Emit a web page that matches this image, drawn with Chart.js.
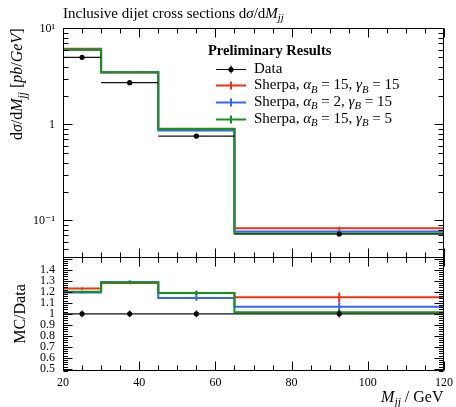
<!DOCTYPE html>
<html>
<head>
<meta charset="utf-8">
<script src="https://cdn.jsdelivr.net/npm/chart.js@4.4.1/dist/chart.umd.min.js"></script>
<style>
  html, body { margin: 0; padding: 0; background: #fff; }
  #wrap { width: 456px; height: 407px; }
</style>
</head>
<body>
<div id="wrap"><canvas id="dijetChart" width="456" height="407"></canvas></div>
<script>
// bins in M_jj (GeV)
const binEdges = [20, 30, 45, 65, 120];
const binCenters = [25, 37.5, 55, 92.5];

// measured cross section (pb/GeV)
const dataXsec = [5.0, 2.72, 0.757, 0.0723];
const dataXsecErr = [0.15, 0.08, 0.023, 0.0025];

// Sherpa predictions (pb/GeV)
const sherpaA15G15 = [6.15, 3.48, 0.9, 0.083];
const sherpaA2G15 = [5.98, 3.5, 0.865, 0.0768];
const sherpaA15G5 = [6.0, 3.5, 0.895, 0.0732];
const sherpaA15G15Err = [0.05, 0.03, 0.015, 0.0033];
const sherpaA2G15Err = [0.05, 0.04, 0.02, 0.003];
const sherpaA15G5Err = [0.05, 0.03, 0.015, 0.0015];

// MC / Data
const ratioData = [1, 1, 1, 1];
const ratioDataErr = [0.03, 0.03, 0.03, 0.035];
const ratioA15G15 = [1.23, 1.28, 1.19, 1.15];
const ratioA2G15 = [1.195, 1.29, 1.145, 1.065];
const ratioA15G5 = [1.2, 1.285, 1.19, 1.015];
const ratioA15G15Err = [0.01, 0.01, 0.02, 0.045];
const ratioA2G15Err = [0.01, 0.015, 0.025, 0.04];
const ratioA15G5Err = [0.01, 0.01, 0.02, 0.02];

// generator settings for the legend
const alphaB = [15, 2, 15];
const gammaB = [15, 15, 5];

// ticks
const xTicks = [20, 40, 60, 80, 100, 120];
const mainTicks = [0.1, 1, 10];
const mainTickLabels = ["10⁻¹", "1", "10¹"];
const ratioTicks = [0.5, 0.6, 0.7, 0.8, 0.9, 1, 1.1, 1.2, 1.3, 1.4];
const ratioTickLabels = ["0.5", "0.6", "0.7", "0.8", "0.9", "1", "1.1", "1.2", "1.3", "1.4"];

const RED = "#EE3311";
const BLUE = "#3366FF";
const GREEN = "#109618";
const FONT = '"Liberation Serif", "DejaVu Serif", serif';

function stepPoints(vals) {
  const pts = vals.map((v, i) => ({ x: binEdges[i], y: v }));
  pts.push({ x: binEdges[binEdges.length - 1], y: vals[vals.length - 1] });
  return pts;
}

function binSegments(vals) {
  const pts = [];
  vals.forEach((v, i) => {
    pts.push({ x: binEdges[i], y: v }, { x: binEdges[i + 1], y: v }, { x: binEdges[i + 1], y: null });
  });
  return pts;
}

function errorSegments(vals, errs) {
  const pts = [];
  vals.forEach((v, i) => {
    pts.push({ x: binCenters[i], y: v - errs[i] }, { x: binCenters[i], y: v + errs[i] }, { x: binCenters[i], y: null });
  });
  return pts;
}

function histo(vals, color, axis, order) {
  return { data: stepPoints(vals), yAxisID: axis, stepped: "before", borderColor: color,
    borderWidth: 2, pointRadius: 0, order: order };
}

function bars(vals, errs, color, axis, order, width) {
  return { data: errorSegments(vals, errs), yAxisID: axis, borderColor: color,
    borderWidth: width, pointRadius: 0, spanGaps: false, order: order };
}

function dataSets(vals, errs, axis) {
  return [
    { data: binSegments(vals), yAxisID: axis, borderColor: "#111", borderWidth: 1.2,
      pointRadius: 0, spanGaps: false, order: 0 },
    bars(vals, errs, "#111", axis, 0, 1.2),
    { data: vals.map((v, i) => ({ x: binCenters[i], y: v })), yAxisID: axis, showLine: false,
      pointRadius: 2.6, pointBackgroundColor: "#000", pointBorderWidth: 0, order: 0 },
  ];
}

// rich text: parts are [text, style], style letters: i italic, b bold, s subscript
function drawRich(ctx, parts, x, y, size, measureOnly) {
  let cx = x;
  parts.forEach(([t, s]) => {
    const fs = s.includes("s") ? size * 0.72 : size;
    ctx.font = (s.includes("i") ? "italic " : "") + (s.includes("b") ? "bold " : "") + fs + "px " + FONT;
    if (!measureOnly) ctx.fillText(t, cx, s.includes("s") ? y + size * 0.22 : y);
    cx += ctx.measureText(t).width;
  });
  return cx - x;
}

const titleParts = [["Inclusive dijet cross sections d", ""], ["σ", "i"], ["/d", ""], ["M", "i"], ["jj", "is"]];
const yTitleParts = [["d", ""], ["σ", "i"], ["/d", ""], ["M", "i"], ["jj", "is"], [" [", ""], ["pb", "i"], ["/", ""], ["GeV", "i"], ["]", ""]];
const xTitleParts = [["M", "i"], ["jj", "is"], [" / GeV", ""]];

function sherpaParts(k) {
  return [["Sherpa, ", ""], ["α", "i"], ["B", "is"], [" = " + alphaB[k] + ", ", ""], ["γ", "i"], ["B", "is"], [" = " + gammaB[k], ""]];
}

const panelDecor = {
  id: "panelDecor",
  afterDraw(chart) {
    const { ctx, scales } = chart;
    const xs = scales.x, ym = scales.y, yr = scales.y2;
    const L = Math.round(xs.left) + 0.5, R = Math.round(xs.right) - 0.5;
    const mTop = Math.round(ym.top) + 0.5, mBot = Math.round(ym.bottom) + 0.5;
    const rTop = mBot, rBot = Math.round(yr.bottom) - 0.5;
    ctx.save();
    ctx.strokeStyle = "#000";
    ctx.lineWidth = 1;
    ctx.beginPath();
    ctx.rect(L, mTop, R - L, mBot - mTop);
    ctx.rect(L, rTop, R - L, rBot - rTop);
    // x ticks on every horizontal edge
    for (let v = 20; v <= 120; v += 5) {
      const px = Math.round(xs.getPixelForValue(v)) + 0.5;
      const len = v % 20 === 0 ? 9 : 5;
      ctx.moveTo(px, mTop); ctx.lineTo(px, mTop + len);
      ctx.moveTo(px, mBot); ctx.lineTo(px, mBot - len);
      ctx.moveTo(px, rTop); ctx.lineTo(px, rTop + len);
      ctx.moveTo(px, rBot); ctx.lineTo(px, rBot - len);
    }
    // log ticks, main panel
    for (let e = -2; e <= 1; e++) {
      for (let k = 1; k <= 9; k++) {
        const v = k * Math.pow(10, e);
        if (v < ym.min || v > ym.max) continue;
        const py = Math.round(ym.getPixelForValue(v)) + 0.5;
        const len = k === 1 ? 9 : 5;
        ctx.moveTo(L, py); ctx.lineTo(L + len, py);
        ctx.moveTo(R, py); ctx.lineTo(R - len, py);
      }
    }
    // ratio ticks
    for (let i = 24; i <= 76; i++) {
      const v = i / 50;
      if (v < yr.min || v > yr.max) continue;
      const py = Math.round(yr.getPixelForValue(v)) + 0.5;
      const len = i % 5 === 0 ? 9 : 4.5;
      ctx.moveTo(L, py); ctx.lineTo(L + len, py);
      ctx.moveTo(R, py); ctx.lineTo(R - len, py);
    }
    ctx.stroke();

    // titles
    ctx.fillStyle = "#000";
    ctx.textBaseline = "alphabetic";
    ctx.textAlign = "left";
    drawRich(ctx, titleParts, 63, 18, 15);

    const yw = drawRich(ctx, yTitleParts, 0, 0, 16, true);
    ctx.save();
    ctx.translate(22, mTop + yw);
    ctx.rotate(-Math.PI / 2);
    drawRich(ctx, yTitleParts, 0, 0, 16);
    ctx.restore();

    ctx.save();
    ctx.font = "16px " + FONT;
    ctx.translate(25, (rTop + rBot) / 2);
    ctx.rotate(-Math.PI / 2);
    ctx.textAlign = "center";
    ctx.fillText("MC/Data", 0, 0);
    ctx.restore();

    const xw = drawRich(ctx, xTitleParts, 0, 0, 16, true);
    drawRich(ctx, xTitleParts, R - xw, 402, 16);

    // legend
    ctx.font = "bold 14.5px " + FONT;
    ctx.fillText("Preliminary Results", 208, 55);
    const rows = [72.5, 89.3, 106, 122.8];
    const colors = ["#111", RED, BLUE, GREEN];
    rows.forEach((by, k) => {
      const ly = Math.round(by - 4) + 0.5;
      ctx.strokeStyle = colors[k];
      ctx.lineWidth = k === 0 ? 1.2 : 2;
      ctx.beginPath();
      ctx.moveTo(216, ly); ctx.lineTo(246, ly);
      ctx.moveTo(231, ly - 4); ctx.lineTo(231, ly + 4);
      ctx.stroke();
      if (k === 0) {
        ctx.fillStyle = "#000";
        ctx.beginPath();
        ctx.arc(231, ly, 2.6, 0, Math.PI * 2);
        ctx.fill();
      }
      ctx.fillStyle = "#000";
      if (k === 0) {
        ctx.font = "15px " + FONT;
        ctx.fillText("Data", 254, by);
      } else {
        drawRich(ctx, sherpaParts(k - 1), 254, by, 15);
      }
    });
    ctx.restore();
  },
};

const tickFont = { family: FONT, size: 12 };

new Chart(document.getElementById("dijetChart"), {
  type: "line",
  data: {
    datasets: [
      ...dataSets(dataXsec, dataXsecErr, "y"),
      histo(sherpaA15G5, GREEN, "y", 1),
      bars(sherpaA15G5, sherpaA15G5Err, GREEN, "y", 1, 2),
      histo(sherpaA2G15, BLUE, "y", 2),
      bars(sherpaA2G15, sherpaA2G15Err, BLUE, "y", 2, 2),
      histo(sherpaA15G15, RED, "y", 3),
      bars(sherpaA15G15, sherpaA15G15Err, RED, "y", 3, 2),
      ...dataSets(ratioData, ratioDataErr, "y2"),
      histo(ratioA15G5, GREEN, "y2", 1),
      bars(ratioA15G5, ratioA15G5Err, GREEN, "y2", 1, 2),
      histo(ratioA2G15, BLUE, "y2", 2),
      bars(ratioA2G15, ratioA2G15Err, BLUE, "y2", 2, 2),
      histo(ratioA15G15, RED, "y2", 3),
      bars(ratioA15G15, ratioA15G15Err, RED, "y2", 3, 2),
    ],
  },
  options: {
    responsive: false,
    animation: false,
    devicePixelRatio: 1,
    layout: { padding: { top: 28, right: 12, bottom: 0, left: 0 } },
    plugins: { legend: { display: false }, tooltip: { enabled: false }, title: { display: false } },
    scales: {
      x: {
        type: "linear",
        min: 20,
        max: 120,
        grid: { display: false, drawTicks: false },
        border: { display: false },
        afterBuildTicks: (s) => { s.ticks = xTicks.map((v) => ({ value: v })); },
        afterFit: (s) => { s.height = 36; s.paddingLeft = 0; s.paddingRight = 0; },
        ticks: { font: tickFont, color: "#000", padding: 5, autoSkip: false, maxRotation: 0,
          callback: (v) => String(v) },
      },
      y: {
        type: "logarithmic",
        position: "left",
        stack: "panels",
        stackWeight: 2,
        weight: 2,
        min: 0.042,
        max: 10.1,
        bounds: "data",
        grid: { display: false, drawTicks: false },
        border: { display: false },
        afterBuildTicks: (s) => { s.ticks = mainTicks.map((v) => ({ value: v })); },
        afterFit: (s) => { s.width = 63; s.paddingTop = 0; s.paddingBottom = 0; },
        ticks: { font: tickFont, color: "#000", padding: 8, autoSkip: false,
          callback: (v) => mainTickLabels[mainTicks.indexOf(v)] },
      },
      y2: {
        type: "linear",
        position: "left",
        stack: "panels",
        stackWeight: 1,
        weight: 1,
        min: 0.48,
        max: 1.52,
        bounds: "data",
        grid: { display: false, drawTicks: false },
        border: { display: false },
        afterBuildTicks: (s) => { s.ticks = ratioTicks.map((v) => ({ value: v })); },
        afterFit: (s) => { s.width = 63; s.paddingTop = 0; s.paddingBottom = 0; },
        ticks: { font: tickFont, color: "#000", padding: 8, autoSkip: false,
          callback: (v) => ratioTickLabels[ratioTicks.indexOf(v)] },
      },
    },
  },
  plugins: [panelDecor],
});
</script>
</body>
</html>
